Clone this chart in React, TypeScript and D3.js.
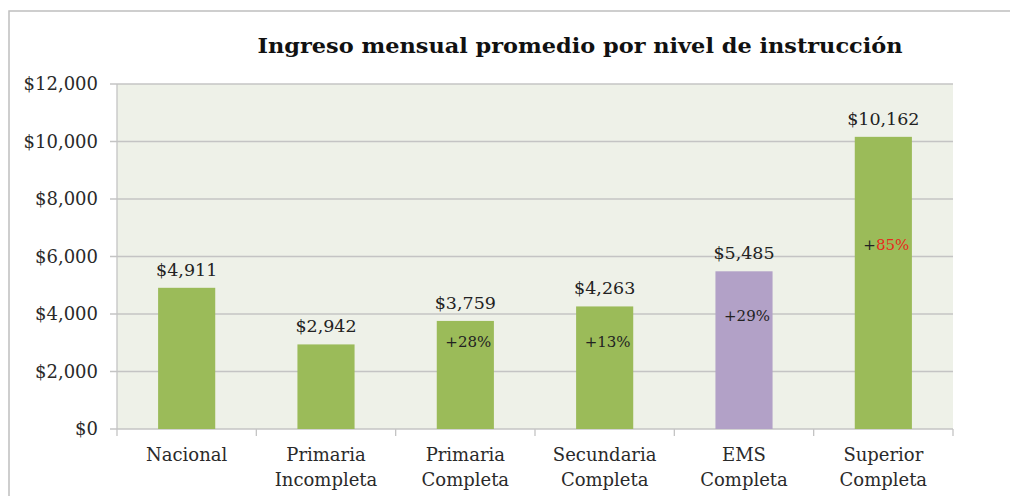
import React from 'react';
import * as d3 from 'd3';

// data
const categories = ['Nacional', 'Primaria Incompleta', 'Primaria Completa', 'Secundaria Completa', 'EMS Completa', 'Superior Completa'];
const incomes = [4911, 2942, 3759, 4263, 5485, 10162];
const barColors = ['#9BBB59', '#9BBB59', '#9BBB59', '#9BBB59', '#B2A1C7', '#9BBB59'];
const pctLabels = ['', '', '+28%', '+13%', '+29%', '+85%'];
const pctLabelAt = [0, 0, 3050, 3050, 3930, 6400]; // value level where the % text sits
const yTicks = [0, 2000, 4000, 6000, 8000, 10000, 12000];

const width = 1010;
const height = 496;
const font = "'DejaVu Serif', Georgia, serif";

const plot = { left: 117, right: 953, top: 84, bottom: 429 };

const x = d3.scaleBand<string>()
    .domain(categories)
    .range([plot.left, plot.right])
    .paddingInner(0.59)
    .paddingOuter(0.295);

const y = d3.scaleLinear()
    .domain([0, 12000])
    .range([plot.bottom, plot.top]);

const money = (v: number) => '$' + d3.format(',')(v);

const step = x.step();
const boundaries = d3.range(categories.length + 1).map(i => plot.left + i * step);

export default function App() {
    return (
        <svg width={width} height={height} style={{ position: 'absolute', left: 0, top: 0, background: '#fff' }}>
            {/* outer frame */}
            <rect x={9} y={11} width={width + 20} height={height + 20} fill="#fff" stroke="#BFBFBF" strokeWidth={1.5} />

            <text x={580} y={53} textAnchor="middle" fontFamily={font} fontWeight="bold" fontSize={21}
                textLength={645} lengthAdjust="spacingAndGlyphs" fill="#111">
                Ingreso mensual promedio por nivel de instrucción
            </text>

            <rect x={plot.left} y={plot.top} width={plot.right - plot.left} height={plot.bottom - plot.top} fill="#EEF1E8" />

            {yTicks.map(t => (
                <g key={t}>
                    <line x1={110} x2={plot.right} y1={y(t)} y2={y(t)} stroke="#C4C4C4" strokeWidth={1.3} />
                    <text x={98} y={y(t)} dy="0.35em" textAnchor="end" fontFamily={font} fontSize={18} fill="#2a2a2a">
                        {money(t)}
                    </text>
                </g>
            ))}

            <line x1={plot.left} x2={plot.left} y1={plot.top} y2={plot.bottom} stroke="#C4C4C4" strokeWidth={1.3} />
            {boundaries.map((b, i) => (
                <line key={i} x1={b} x2={b} y1={plot.bottom} y2={plot.bottom + 7} stroke="#C4C4C4" strokeWidth={1.3} />
            ))}

            {categories.map((c, i) => {
                const bx = x(c) as number;
                const cx = bx + x.bandwidth() / 2;
                const words = c.split(' ');
                return (
                    <g key={c}>
                        <rect x={bx} y={y(incomes[i])} width={x.bandwidth()} height={plot.bottom - y(incomes[i])} fill={barColors[i]} />
                        <text x={cx} y={y(incomes[i]) - 12} textAnchor="middle" fontFamily={font} fontSize={17.5} fill="#222">
                            {money(incomes[i])}
                        </text>
                        {pctLabels[i] && (
                            <text x={cx + 3} y={y(pctLabelAt[i])} dy="0.35em" textAnchor="middle" fontFamily={font} fontSize={15} fill="#222">
                                {pctLabels[i] === '+85%'
                                    ? (<><tspan>+</tspan><tspan fill="#E8291C">85%</tspan></>)
                                    : pctLabels[i]}
                            </text>
                        )}
                        {words.map((w, j) => (
                            <text key={j} x={cx} y={461 + j * 25} textAnchor="middle" fontFamily={font} fontSize={18} fill="#2a2a2a">
                                {w}
                            </text>
                        ))}
                    </g>
                );
            })}
        </svg>
    );
}
